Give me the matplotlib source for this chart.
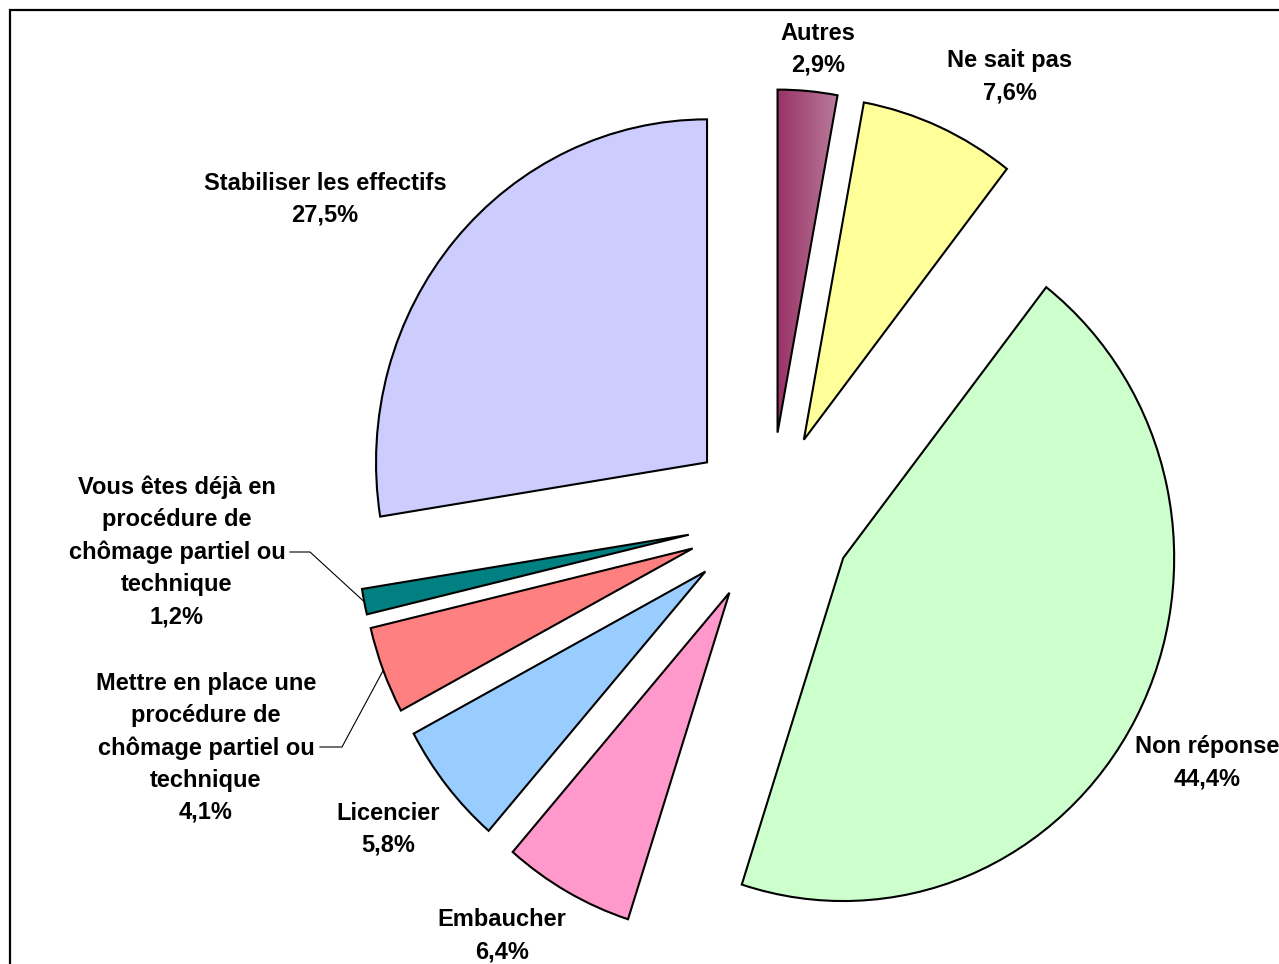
import numpy as np
import matplotlib
matplotlib.use("Agg")
import matplotlib.pyplot as plt
from matplotlib.patches import Rectangle
from matplotlib.colors import LinearSegmentedColormap

# données du camembert (sens horaire depuis midi)
labels = ["Autres", "Ne sait pas", "Non réponse", "Embaucher", "Licencier",
          "Mettre en place une\nprocédure de\nchômage partiel ou\ntechnique",
          "Vous êtes déjà en\nprocédure de\nchômage partiel ou\ntechnique",
          "Stabiliser les effectifs"]
values = [2.9, 7.6, 44.4, 6.4, 5.8, 4.1, 1.2, 27.5]
pct_text = ["2,9%", "7,6%", "44,4%", "6,4%", "5,8%", "4,1%", "1,2%", "27,5%"]
colors = ["#993366", "#FFFF99", "#CCFFCC", "#FF99CC", "#99CCFF",
          "#FF8080", "#008080", "#CCCCFF"]

# mise en page (pixels de l'image)
W, H = 1279, 964
CX, CY, RX, RY = 770, 518, 331, 343


def px(x, y):
    return (x - CX) / RX, (CY - y) / RY


label_pos = [(818, 49), (1010, 77), (1207, 763), (502, 936), (388, 829),
             (206, 748), (177, 552), (325, 199)]

fig = plt.figure(figsize=(W / 100, H / 100), dpi=100)
ax = fig.add_axes([0, 0, 1, 1])

wedges, _ = ax.pie(values, colors=colors, explode=[0.25] * len(values),
                   startangle=90, counterclock=False, radius=1,
                   wedgeprops=dict(edgecolor="black", linewidth=1.5))

# dégradé pour "Autres"
w0 = wedges[0]
bb = w0.get_path().get_extents()
cmap = LinearSegmentedColormap.from_list("autres", ["#993366", "#BA7C9C"])
grad = np.linspace(0, 1, 256).reshape(1, -1)
im = ax.imshow(grad, cmap=cmap, extent=[bb.x0, bb.x1, bb.y0, bb.y1],
               aspect="auto", interpolation="bicubic", zorder=0.5)
im.set_clip_path(w0)
w0.set_facecolor("none")

ax.set_xlim(-CX / RX, (W - CX) / RX)
ax.set_ylim((CY - H) / RY, CY / RY)
ax.set_aspect("auto")
ax.axis("off")

font = ["Liberation Sans", "DejaVu Sans"]
for lab, pct, pos in zip(labels, pct_text, label_pos):
    x, y = px(*pos)
    ax.text(x, y, lab + "\n" + pct, ha="center", va="center",
            fontsize=17, fontweight="bold", family=font, linespacing=1.5)

# lignes de rappel pour les petites parts
frac = np.cumsum([0] + values) / sum(values)
for i, elbow, end in [(6, (310, 552), (290, 552)), (5, (342, 747), (320, 747))]:
    mid = np.deg2rad(90 - 360 * (frac[i] + frac[i + 1]) / 2)
    xo, yo = 1.25 * np.cos(mid), 1.25 * np.sin(mid)
    xe, ye = px(*elbow)
    xt, yt = px(*end)
    ax.plot([xo, xe, xt], [yo, ye, yt], color="black", lw=0.8)

fig.patches.append(Rectangle((10 / W, -0.1), 1.2, 1 - 10 / H + 0.1,
                             transform=fig.transFigure, fill=False,
                             edgecolor="black", lw=1.6))

fig.savefig("out.png", dpi=100)
